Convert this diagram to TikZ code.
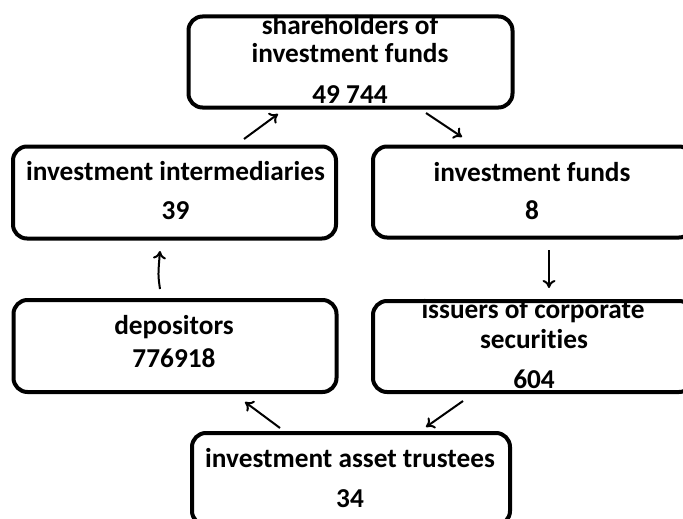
\documentclass[tikz,border=0pt]{standalone}
\usepackage{fontspec}
\setmainfont[Ligatures=NoCommon]{Carlito}
\usetikzlibrary{arrows.meta}
\begin{document}
\begin{tikzpicture}[x=1pt,y=-1pt,
  fundbox/.style={draw=black, line width=4pt, rounded corners=14pt,
    fill=white, inner sep=0pt},
  label/.style={font=\fontsize{27.3}{30}\selectfont\bfseries, anchor=base,
    inner sep=0pt},
  flow/.style={line width=2pt, -{To[length=8pt,width=13pt,line width=2pt]}}]
\useasboundingbox (0,0) rectangle (683,519);
\clip (0,0) rectangle (683,519);

% boxes
\node[fundbox, minimum width=324pt, minimum height=91pt] (share) at (350.5,62) {};
\node[fundbox, minimum width=323pt, minimum height=92pt] (inter) at (174.5,192.5) {};
\node[fundbox, minimum width=320pt, minimum height=91pt] (funds) at (533,192) {};
\node[fundbox, minimum width=323pt, minimum height=92pt] (depo) at (175,346) {};
\node[fundbox, minimum width=320pt, minimum height=91pt] (issuer) at (533,346.5) {};
\node[fundbox, minimum width=318pt, minimum height=92pt] (trust) at (351,479) {};

% texts
\node[label] (shareA) at (350,35) {shareholders of};
\node[label] (shareB) at (350,63) {investment funds};
\node[label] (shareN) at (350,103) {49 744};

\node[label] (interA) at (175.5,180) {investment intermediaries};
\node[label] (interN) at (175.5,219) {39};

\node[label] (fundsA) at (532,181) {investment funds};
\node[label] (fundsN) at (532,219) {8};

\node[label] (depoA) at (174,334) {depositors};
\node[label] (depoN) at (174,367) {776918};

\node[label] (issuerA) at (533,318) {issuers of corporate};
\node[label] (issuerB) at (534,348) {securities};
\node[label] (issuerN) at (534,388) {604};

\node[label] (trustA) at (350,467) {investment asset trustees};
\node[label] (trustN) at (350,507) {34};

% flow arrows between the boxes
\coordinate (a1s) at (244,139); \coordinate (a1e) at (278,114);
\coordinate (a2s) at (426,113); \coordinate (a2e) at (462,137);
\coordinate (a3s) at (549,250); \coordinate (a3e) at (549,288);
\coordinate (a4s) at (463,401); \coordinate (a4e) at (426,427);
\coordinate (a5s) at (280,428); \coordinate (a5e) at (245,402);
\coordinate (a6s) at (160,289); \coordinate (a6e) at (160,251);
\draw[flow] (a1s) -- (a1e);
\draw[flow] (a2s) -- (a2e);
\draw[flow] (a3s) -- (a3e);
\draw[flow] (a4s) -- (a4e);
\draw[flow] (a5s) -- (a5e);
\draw[flow] (a6s) .. controls (158,275) .. (a6e);
\end{tikzpicture}
\end{document}
